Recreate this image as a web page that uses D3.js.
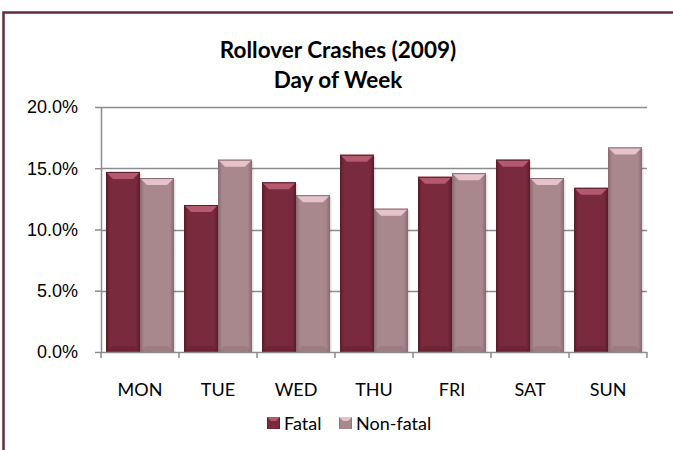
<!DOCTYPE html>
<html>
<head>
<meta charset="utf-8">
<script src="https://cdn.jsdelivr.net/npm/d3@7"></script>
<style>
  body { margin: 0; background: #fff; }
  svg { display: block; font-family: Lato, "Open Sans", sans-serif; }
</style>
</head>
<body>
<div id="chart"></div>
<script>
var days = ["MON", "TUE", "WED", "THU", "FRI", "SAT", "SUN"];
var series = ["Fatal", "Non-fatal"];
var fatal = [14.7, 12.0, 13.85, 16.1, 14.3, 15.7, 13.4];
var nonFatal = [14.2, 15.7, 12.8, 11.7, 14.6, 14.2, 16.7];
var yTicks = [0, 5, 10, 15, 20];

var W = 673, H = 450;
var margin = { top: 107, right: 26, bottom: 98, left: 101 };

var svg = d3.select("#chart").append("svg")
  .attr("width", W)
  .attr("height", H);

// colours for the two series: main, dark edge, light bevel
var pal = {
  "Fatal": { main: "#7a2a3d", edge: "#5a1b2a", top: "#b35a6e" },
  "Non-fatal": { main: "#a8878d", edge: "#876a70", top: "#e6c3ca" }
};

var defs = svg.append("defs");
series.forEach(function (s, i) {
  var g = defs.append("linearGradient")
    .attr("id", "grad" + i)
    .attr("x1", "0%").attr("x2", "100%").attr("y1", "0%").attr("y2", "0%");
  g.append("stop").attr("offset", "0%").attr("stop-color", pal[s].edge);
  g.append("stop").attr("offset", "12%").attr("stop-color", pal[s].main);
  g.append("stop").attr("offset", "88%").attr("stop-color", pal[s].main);
  g.append("stop").attr("offset", "100%").attr("stop-color", pal[s].edge);
});

// outer chart border (runs off the right and bottom of the picture)
svg.append("rect")
  .attr("x", 3.5).attr("y", 12.5)
  .attr("width", W + 20).attr("height", H + 20)
  .attr("fill", "none")
  .attr("stroke", "#622c3b")
  .attr("stroke-width", 2.5);

var width = W - margin.left - margin.right,
  height = H - margin.top - margin.bottom;

var x0 = d3.scaleBand().domain(days).range([0, width]).paddingInner(0).paddingOuter(0);
var x1 = d3.scaleBand().domain(series).range([5, x0.bandwidth() - 5]).padding(0);
var y = d3.scaleLinear().domain([0, 20]).range([height, 0]);

var plot = svg.append("g").attr("transform", `translate(${margin.left}, ${margin.top})`);

// gridlines
plot.selectAll(".grid")
  .data(yTicks.filter(function (d) { return d > 0; }))
  .enter().append("line")
  .attr("class", "grid")
  .attr("x1", 0).attr("x2", width)
  .attr("y1", function (d) { return Math.round(y(d)) + 0.5; })
  .attr("y2", function (d) { return Math.round(y(d)) + 0.5; })
  .attr("stroke", "#8c8c8c")
  .attr("stroke-width", 1.5);

// bars
var rows = days.map(function (d, i) {
  return { day: d, vals: [{ s: "Fatal", v: fatal[i] }, { s: "Non-fatal", v: nonFatal[i] }] };
});

var groups = plot.selectAll(".day")
  .data(rows)
  .enter().append("g")
  .attr("class", "day")
  .attr("transform", function (d) { return `translate(${x0(d.day)}, 0)`; });

var bars = groups.selectAll(".bar")
  .data(function (d) { return d.vals; })
  .enter().append("g")
  .attr("class", "bar");

// soft shadow
bars.append("rect")
  .attr("x", function (d) { return x1(d.s) + 1.5; })
  .attr("y", function (d) { return y(d.v) + 1.5; })
  .attr("width", x1.bandwidth())
  .attr("height", function (d) { return height - y(d.v) - 1.5; })
  .attr("fill", "#000")
  .attr("opacity", 0.12);

bars.append("rect")
  .attr("x", function (d) { return x1(d.s); })
  .attr("y", function (d) { return y(d.v); })
  .attr("width", x1.bandwidth())
  .attr("height", function (d) { return height - y(d.v); })
  .attr("fill", function (d) { return "url(#grad" + series.indexOf(d.s) + ")"; });

// top bevel
bars.append("path")
  .attr("d", function (d) {
    var l = x1(d.s), r = l + x1.bandwidth(), t = y(d.v), b = 7;
    return `M${l},${t}L${r},${t}L${r - b},${t + b}L${l + b},${t + b}Z`;
  })
  .attr("fill", function (d) { return pal[d.s].top; });

bars.append("line")
  .attr("x1", function (d) { return x1(d.s); })
  .attr("x2", function (d) { return x1(d.s) + x1.bandwidth(); })
  .attr("y1", function (d) { return y(d.v) + 0.5; })
  .attr("y2", function (d) { return y(d.v) + 0.5; })
  .attr("stroke", function (d) { return pal[d.s].edge; })
  .attr("stroke-width", 1);

// bottom bevel
bars.append("path")
  .attr("d", function (d) {
    var l = x1(d.s), r = l + x1.bandwidth(), bt = height, b = 6;
    return `M${l},${bt}L${r},${bt}L${r - b},${bt - b}L${l + b},${bt - b}Z`;
  })
  .attr("fill", function (d) { return pal[d.s].edge; })
  .attr("opacity", 0.35);

// y axis
var yAxis = plot.append("g")
  .call(d3.axisLeft(y).tickValues(yTicks).tickSize(6).tickSizeOuter(0)
    .tickFormat(function (d) { return d.toFixed(1) + "%"; }));
yAxis.select(".domain").attr("stroke", "#8c8c8c").attr("stroke-width", 1.5);
yAxis.selectAll(".tick line").attr("stroke", "#8c8c8c").attr("stroke-width", 1.5);
yAxis.selectAll(".tick text")
  .attr("x", -23)
  .attr("fill", "#000")
  .style("font-size", "18px");

// x axis with ticks at the category boundaries
var xAxis = plot.append("g").attr("transform", `translate(0, ${height})`);
xAxis.append("line")
  .attr("x1", 0).attr("x2", width)
  .attr("y1", 0.5).attr("y2", 0.5)
  .attr("stroke", "#8c8c8c").attr("stroke-width", 1.5);
var bounds = days.map(function (d) { return x0(d); }).concat([width]);
xAxis.selectAll(".xtick")
  .data(bounds)
  .enter().append("line")
  .attr("class", "xtick")
  .attr("x1", function (d) { return d; }).attr("x2", function (d) { return d; })
  .attr("y1", 0).attr("y2", 6)
  .attr("stroke", "#8c8c8c").attr("stroke-width", 1.5);
xAxis.selectAll(".xlabel")
  .data(days)
  .enter().append("text")
  .attr("class", "xlabel")
  .attr("x", function (d) { return x0(d) + x0.bandwidth() / 2; })
  .attr("y", 44)
  .attr("text-anchor", "middle")
  .style("font-size", "18px")
  .text(function (d) { return d; });

// title
var title = svg.append("text")
  .attr("x", 338)
  .attr("text-anchor", "middle")
  .style("font-size", "22.5px")
  .style("font-weight", "bold");
title.append("tspan").attr("x", 338).attr("y", 58).text("Rollover Crashes (2009)");
title.append("tspan").attr("x", 338).attr("y", 88).text("Day of Week");

// legend
var legendX = [267, 339];
var legend = svg.selectAll(".legend")
  .data(series)
  .enter().append("g")
  .attr("class", "legend")
  .attr("transform", function (d, i) { return `translate(${legendX[i]}, 417)`; });
legend.append("rect")
  .attr("width", 13).attr("height", 12)
  .attr("fill", function (d, i) { return "url(#grad" + i + ")"; });
legend.append("path")
  .attr("d", "M0,0L13,0L9,4L4,4Z")
  .attr("fill", function (d) { return pal[d].top; });
legend.append("text")
  .attr("x", 17).attr("y", 12.5)
  .style("font-size", "18px")
  .text(function (d) { return d; });
</script>
</body>
</html>
